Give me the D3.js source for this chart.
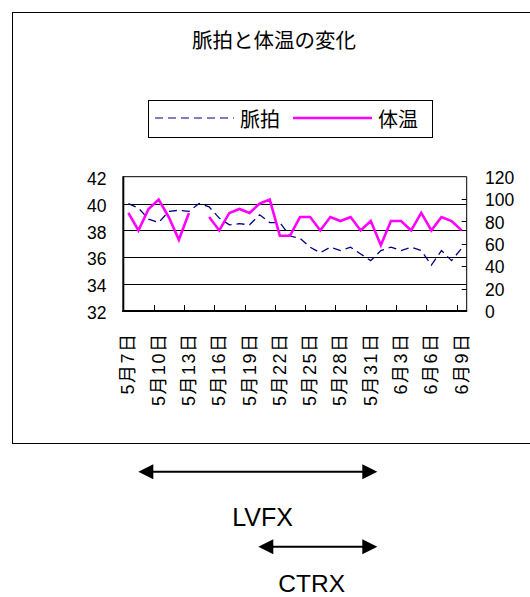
<!DOCTYPE html>
<html><head><meta charset="utf-8">
<script src="https://cdn.jsdelivr.net/npm/d3@7"></script>
<style>body{margin:0;background:#fff}svg{display:block}</style>
</head><body>
<svg id="c" width="530" height="597"></svg>
<script>
const categories = ["5月7日","5月8日","5月9日","5月10日","5月11日","5月12日","5月13日","5月14日","5月15日","5月16日","5月17日","5月18日","5月19日","5月20日","5月21日","5月22日","5月23日","5月24日","5月25日","5月26日","5月27日","5月28日","5月29日","5月30日","5月31日","6月1日","6月2日","6月3日","6月4日","6月5日","6月6日","6月7日","6月8日","6月9日"];
const pulse = [96,92,82,79,89,90,89,96,93,83,77,78,77,86,79,79,67,65,57,52,57,54,57,51,45,54,57,54,57,54,41,54,45,56];
const temperature = [39.3,38.0,39.6,40.3,39.0,37.3,39.3,null,39.0,38.0,39.3,39.6,39.3,40.0,40.3,37.6,37.6,39.0,39.0,38.0,39.0,38.7,39.0,38.0,38.7,36.9,38.7,38.7,38.0,39.3,38.0,39.0,38.7,38.0];
const leftTicks = [32,34,36,38,40,42];
const rightTicks = [0,20,40,60,80,100,120];
const labelEvery = 3;
const title = "脈拍と体温の変化";
const seriesNames = ["脈拍","体温"];
const arrowLabels = ["LVFX","CTRX"];
const arrowRanges = [["5月7日","5月31日"],["5月19日","5月31日"]];

const svg = d3.select("#c");
const FONT = "'Liberation Sans', Arial, 'Noto Sans CJK JP', sans-serif";
const L = 123.3, R = 466.7, T = 176.7, B = 311;

// outer chart border
svg.append("rect").attr("x",12.5).attr("y",12.5).attr("width",540).attr("height",431)
  .attr("fill","none").attr("stroke","#000").attr("stroke-width",1);

svg.append("text").attr("x",274).attr("y",48).attr("text-anchor","middle")
  .attr("font-family",FONT).attr("font-size",20.5).text(title);

// legend
const lg = svg.append("g");
lg.append("rect").attr("x",148.5).attr("y",100.5).attr("width",284).attr("height",37)
  .attr("fill","#fff").attr("stroke","#000").attr("stroke-width",1);
lg.append("line").attr("x1",155).attr("x2",234).attr("y1",118).attr("y2",118)
  .attr("stroke","#000080").attr("stroke-width",1.2).attr("stroke-dasharray","8,5");
lg.append("text").attr("x",240).attr("y",127).attr("font-family",FONT).attr("font-size",20).text(seriesNames[0]);
lg.append("line").attr("x1",293).attr("x2",372).attr("y1",118).attr("y2",118)
  .attr("stroke","#ff00ff").attr("stroke-width",2.5);
lg.append("text").attr("x",378).attr("y",127).attr("font-family",FONT).attr("font-size",20).text(seriesNames[1]);

const x = d3.scaleBand().domain(categories).range([L,R]).padding(0);
const cx = c => x(c) + x.bandwidth()/2;
const yL = d3.scaleLinear().domain([32,42]).range([B,T]);
const yR = d3.scaleLinear().domain([0,120]).range([B,T]);

// gridlines
svg.append("g").selectAll("line").data(leftTicks.filter(v=>v>32&&v<42)).join("line")
  .attr("x1",L).attr("x2",R).attr("y1",d=>Math.round(yL(d))+0.5).attr("y2",d=>Math.round(yL(d))+0.5)
  .attr("stroke","#000").attr("stroke-width",1);
// top and right border
svg.append("line").attr("x1",L).attr("x2",R).attr("y1",T).attr("y2",T).attr("stroke","#000");
svg.append("line").attr("x1",R).attr("x2",R).attr("y1",T).attr("y2",B).attr("stroke","#000");
// right ticks (inside)
svg.append("g").selectAll("line").data(rightTicks.filter(v=>v>0&&v<120)).join("line")
  .attr("x1",R-5).attr("x2",R).attr("y1",d=>Math.round(yR(d))+0.5).attr("y2",d=>Math.round(yR(d))+0.5)
  .attr("stroke","#000");
// bottom ticks every 3 categories (inside)
svg.append("g").selectAll("line").data(categories.filter((c,i)=>i>0&&i%labelEvery===0)).join("line")
  .attr("x1",d=>Math.round(x(d))+0.5).attr("x2",d=>Math.round(x(d))+0.5).attr("y1",B-6).attr("y2",B)
  .attr("stroke","#000");
// axes lines
svg.append("line").attr("x1",L).attr("x2",L).attr("y1",T-0.5).attr("y2",B+1).attr("stroke","#000").attr("stroke-width",2);
svg.append("line").attr("x1",L-1).attr("x2",R+0.5).attr("y1",B).attr("y2",B).attr("stroke","#000").attr("stroke-width",2);

// axis labels
svg.append("g").selectAll("text").data(leftTicks).join("text")
  .attr("x",106.5).attr("y",d=>yL(d)+2).attr("dy","0.35em").attr("text-anchor","end")
  .attr("font-family",FONT).attr("font-size",17.5).text(d=>d);
svg.append("g").selectAll("text").data(rightTicks).join("text")
  .attr("x",485).attr("y",d=>yR(d)+1).attr("dy","0.35em").attr("text-anchor","start")
  .attr("font-family",FONT).attr("font-size",17.5).text(d=>d);
svg.append("g").selectAll("text").data(categories.filter((c,i)=>i%labelEvery===0)).join("text")
  .attr("transform",d=>`translate(${cx(d)+6},${332.5})rotate(-90)`)
  .attr("text-anchor","end").attr("font-family",FONT).attr("font-size",18)
  .attr("letter-spacing","1.5px").text(d=>d);

// series
const pts = categories.map((c,i)=>({c,p:pulse[i],t:temperature[i]}));
svg.append("path").datum(pts)
  .attr("d",d3.line().x(d=>cx(d.c)).y(d=>yR(d.p)))
  .attr("fill","none").attr("stroke","#000080").attr("stroke-width",1.3).attr("stroke-dasharray","8,5");
svg.append("path").datum(pts)
  .attr("d",d3.line().defined(d=>d.t!=null).x(d=>cx(d.c)).y(d=>yL(d.t)))
  .attr("fill","none").attr("stroke","#ff00ff").attr("stroke-width",2.6).attr("stroke-linejoin","miter");

// arrows
function arrow(y,x1,x2){
  const g = svg.append("g");
  g.append("line").attr("x1",x1+10).attr("x2",x2-10).attr("y1",y).attr("y2",y).attr("stroke","#000").attr("stroke-width",2);
  g.append("path").attr("d",`M${x1},${y}L${x1+15},${y-7.5}L${x1+15},${y+7.5}Z`).attr("fill","#000");
  g.append("path").attr("d",`M${x2},${y}L${x2-15},${y-7.5}L${x2-15},${y+7.5}Z`).attr("fill","#000");
}
const aIdx = r => [categories.indexOf(r[0]), categories.indexOf(r[1])];
const a1 = aIdx(arrowRanges[0]), a2 = aIdx(arrowRanges[1]);
const ax2 = d3.scaleLinear().domain([a1[0],a1[1]]).range([138.3,377.3]);
arrow(471.7, ax2(a1[0]), ax2(a1[1]));
arrow(546.7, 258.3, ax2(a2[1]));
svg.append("text").attr("x",262.5).attr("y",526).attr("text-anchor","middle").attr("font-family",FONT).attr("font-size",25).text(arrowLabels[0]);
svg.append("text").attr("x",311.7).attr("y",592).attr("text-anchor","middle").attr("font-family",FONT).attr("font-size",24.5).text(arrowLabels[1]);
</script>
</body></html>
